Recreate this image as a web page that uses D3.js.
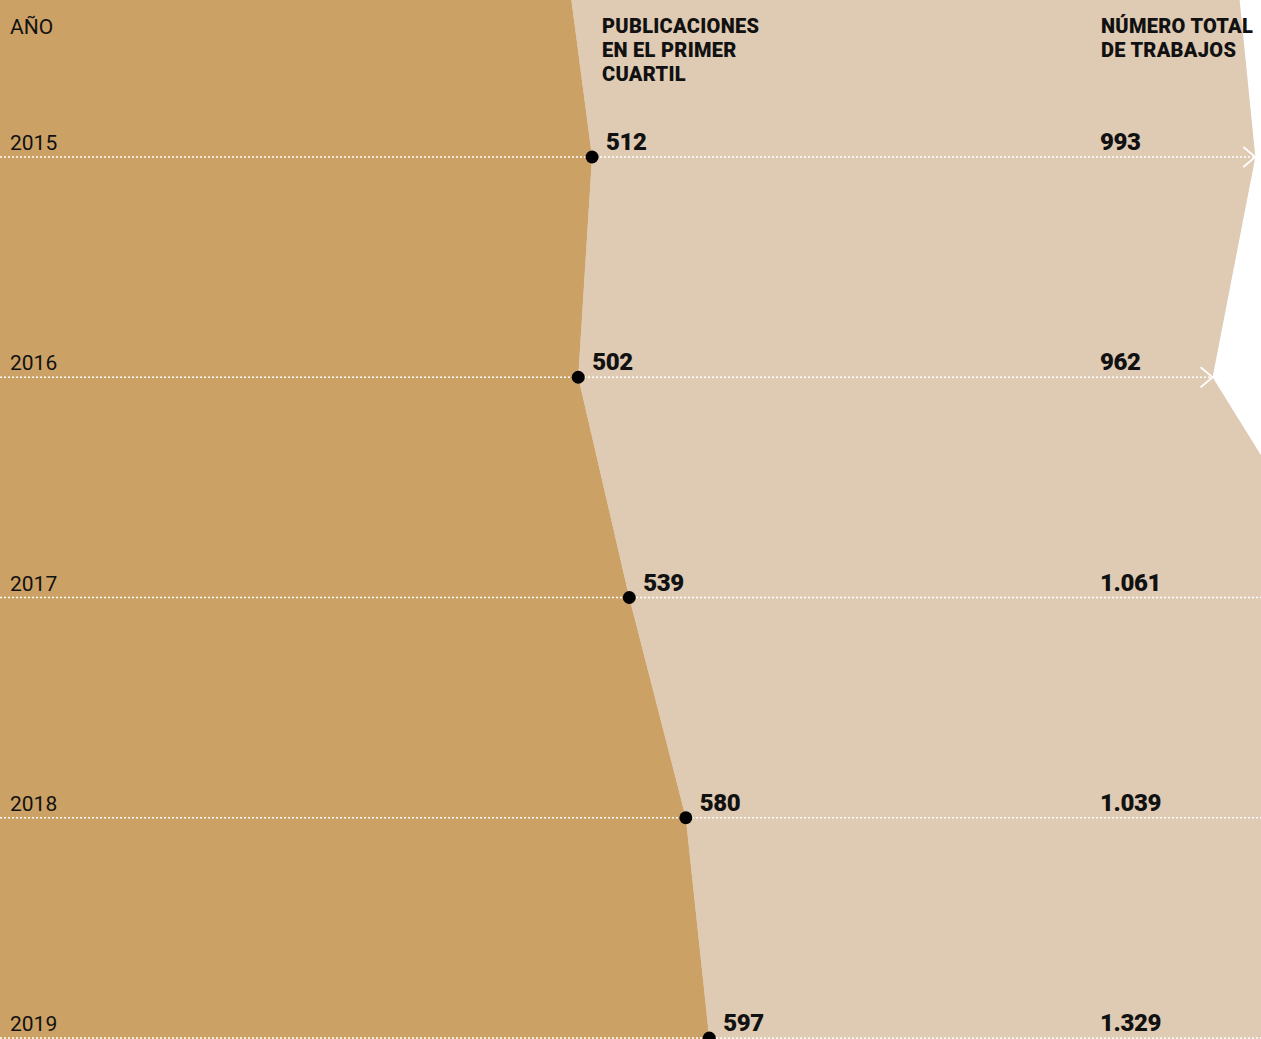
<!DOCTYPE html>
<html>
<head>
<meta charset="utf-8">
<script src="https://cdn.jsdelivr.net/npm/d3@7"></script>
<style>
  body { margin: 0; background: #fff; }
  text { font-family: Roboto, "Open Sans", sans-serif; fill: #111; }
  .val { font-weight: 900; font-size: 24px; letter-spacing: -0.4px; }
  .head { font-weight: 900; font-size: 20px; letter-spacing: 0.3px; }
  .year { font-size: 21px; }
</style>
</head>
<body>
<div id="chart"></div>
<script>
var width = 1261,
  height = 1039;

var years = [2015, 2016, 2017, 2018, 2019];
var firstQuartile = [512, 502, 539, 580, 597];
var totalWorks = [993, 962, 1061, 1039, 1329];
var totalLabels = ['993', '962', '1.061', '1.039', '1.329'];

// edges continue just outside the frame
var edgeYears = [2014, 2020];
var edgeFirstQuartile = [491, 620];
var edgeTotal = [977, 1450];

var x = d3.scaleLinear()
  .domain([500, 1000])
  .range([575.5, 1265]);

var y = d3.scaleLinear()
  .domain([2015, 2019])
  .range([157, 1038]);

var rows = years.map(function(d, i) {
  return { year: d, q1: firstQuartile[i], total: totalWorks[i], label: totalLabels[i] };
});

var shape = [{ year: edgeYears[0], q1: edgeFirstQuartile[0], total: edgeTotal[0] }]
  .concat(rows)
  .concat([{ year: edgeYears[1], q1: edgeFirstQuartile[1], total: edgeTotal[1] }]);

var svg = d3.select('#chart').append('svg')
  .attr('width', width)
  .attr('height', height);

// light band: first quartile -> total
svg.append('path')
  .datum(shape)
  .attr('fill', '#dfcab3')
  .attr('d', d3.area()
    .y(function(d) { return y(d.year); })
    .x0(function(d) { return x(d.q1); })
    .x1(function(d) { return x(d.total); }));

// dark band: 0 -> first quartile
svg.append('path')
  .datum(shape)
  .attr('fill', '#cca165')
  .attr('d', d3.area()
    .y(function(d) { return y(d.year); })
    .x0(function() { return x(0); })
    .x1(function(d) { return x(d.q1); }));

// dotted guides
svg.selectAll('.guide')
  .data(rows)
  .enter().append('line').classed('guide', true)
  .attr('x1', 0)
  .attr('x2', function(d) { return Math.min(x(d.total), width); })
  .attr('y1', function(d) { return y(d.year); })
  .attr('y2', function(d) { return y(d.year); })
  .attr('stroke', '#fff')
  .attr('stroke-width', 1.6)
  .attr('stroke-dasharray', '2,2');

// arrows at the total, when it fits in the frame
svg.selectAll('.arrow')
  .data(rows.filter(function(d) { return x(d.total) < width; }))
  .enter().append('path').classed('arrow', true)
  .attr('d', function(d) {
    var tx = x(d.total), ty = y(d.year);
    return 'M' + (tx - 12) + ',' + (ty - 10) + 'L' + tx + ',' + ty + 'L' + (tx - 12) + ',' + (ty + 10);
  })
  .attr('fill', 'none')
  .attr('stroke', '#fff')
  .attr('stroke-width', 1.8);

// dots
svg.selectAll('.dot')
  .data(rows)
  .enter().append('circle').classed('dot', true)
  .attr('cx', function(d) { return x(d.q1); })
  .attr('cy', function(d) { return y(d.year); })
  .attr('r', 6.5)
  .attr('fill', '#000');

// year labels
svg.selectAll('.year')
  .data(rows)
  .enter().append('text').classed('year', true)
  .attr('x', 10)
  .attr('y', function(d) { return y(d.year) - 7; })
  .text(function(d) { return d.year; });

// first quartile values
svg.selectAll('.q1val')
  .data(rows)
  .enter().append('text').attr('class', 'val q1val')
  .attr('x', function(d) { return x(d.q1) + 14; })
  .attr('y', function(d) { return y(d.year) - 7; })
  .text(function(d) { return d.q1; });

// total values
svg.selectAll('.totval')
  .data(rows)
  .enter().append('text').attr('class', 'val totval')
  .attr('x', 1100)
  .attr('y', function(d) { return y(d.year) - 7; })
  .text(function(d) { return d.label; });

// headers
svg.append('text').classed('year', true)
  .attr('x', 10).attr('y', 34)
  .text('AÑO');

var h1 = svg.append('text').classed('head', true).attr('y', 33);
['PUBLICACIONES', 'EN EL PRIMER', 'CUARTIL'].forEach(function(t, i) {
  h1.append('tspan').attr('x', 602).attr('dy', i ? 24 : 0).text(t);
});

var h2 = svg.append('text').classed('head', true).attr('y', 33);
['NÚMERO TOTAL', 'DE TRABAJOS'].forEach(function(t, i) {
  h2.append('tspan').attr('x', 1101).attr('dy', i ? 24 : 0).text(t);
});
</script>
</body>
</html>
